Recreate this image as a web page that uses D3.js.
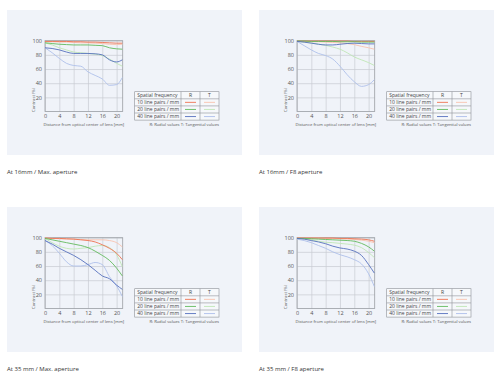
<!DOCTYPE html>
<html>
<head>
<meta charset="utf-8">
<script src="https://cdn.jsdelivr.net/npm/d3@7"></script>
<style>
  body { margin: 0; background: #fff; }
  text { font-family: "Open Sans", "Noto Sans", sans-serif; }
</style>
</head>
<body>
<div id="canvas"></div>
<script>
// distance from optical center (mm)
const xs = [0, 2, 4, 6, 8, 10, 12, 14, 16, 18, 20, 21.6];
const xTicks = [0, 4, 8, 12, 16, 20];
const yTicks = [20, 40, 60, 80, 100];

const titles = ["At 16mm / Max. aperture", "At 16mm / F8 aperture", "At 35 mm / Max. aperture", "At 35 mm / F8 aperture"];
const legendRows = ["10 line pairs / mm", "20 line pairs / mm", "40 line pairs / mm"];
const seriesKeys = ["r10", "t10", "r20", "t20", "r40", "t40"];

// 16mm max aperture
const p1r10 = [99, 99, 99, 99, 98.5, 98.5, 98, 98, 97.5, 97, 96.5, 96.5];
const p1t10 = [98.5, 98.5, 98, 98, 97.5, 97, 97, 96.5, 96, 95, 94.5, 95];
const p1r20 = [97, 96, 95, 94.5, 94, 94, 94, 93.5, 93, 90, 88.5, 88];
const p1t20 = [97, 94, 90, 87, 84, 83, 82, 81, 79, 74, 68, 64];
const p1r40 = [90, 89, 87, 84, 82, 82, 82, 81.5, 80, 73, 70, 73];
const p1t40 = [90, 83, 75, 68, 65, 64, 56, 51, 46, 37, 38, 48];

// 16mm F8 aperture
const p2r10 = [99.5, 99.5, 99.5, 99.5, 99.5, 99.5, 99.5, 99.5, 99, 99, 99, 99];
const p2t10 = [99, 99, 98.5, 98.5, 98, 97.5, 97, 96, 94.5, 92, 90, 88];
const p2r20 = [99.5, 99.5, 99, 99, 99, 99, 98.5, 98.5, 98.5, 98, 98, 98];
const p2t20 = [99, 98, 97, 95, 93.5, 91, 88, 83, 77, 73, 69, 65];
const p2r40 = [99, 98, 96.5, 95, 94, 94, 95, 96, 96.5, 96, 95.5, 95.5];
const p2t40 = [99, 93, 87, 82, 79, 74, 64, 52, 42, 35.5, 38, 45];

// 35mm max aperture
const p3r10 = [99.5, 99, 99, 98.5, 98, 97, 96, 94, 90, 85, 78, 69];
const p3t10 = [99.5, 99, 98.5, 98, 98, 97.5, 97, 97, 97, 96, 93, 87];
const p3r20 = [99, 97, 95, 93, 91, 89, 86, 81, 75, 68, 57, 46];
const p3t20 = [99, 93, 88, 85, 84, 85, 86, 88, 89, 86, 76, 59];
const p3r40 = [96, 91, 85, 80, 75, 69, 62, 54, 46, 42, 33, 27];
const p3t40 = [96, 89, 78, 66, 60, 60, 62, 65, 62, 45, 32, 17];

// 35mm F8 aperture
const p4r10 = [99.5, 99.5, 99.5, 99.5, 99.5, 99.5, 99, 99, 98.5, 98, 97, 95];
const p4t10 = [99.5, 99.5, 99.5, 99.5, 99, 99, 98.5, 98, 97.5, 96.5, 95, 93];
const p4r20 = [99, 99, 98.5, 98, 97.5, 97, 96.5, 96, 95, 92, 87, 81];
const p4t20 = [99, 98.5, 97, 95, 93.5, 93, 92, 91, 89.5, 86, 79, 72];
const p4r40 = [99, 98, 96, 94, 91.5, 88, 85.5, 84, 81, 75, 62, 50];
const p4t40 = [98, 96, 93, 89, 85, 80, 76, 73, 69, 63, 49, 31];

const colors = {
    r10: "#ee7250", t10: "#f8c2ae",
    r20: "#62ba5c", t20: "#bfe7b5",
    r40: "#5670bd", t40: "#aebfea"
};

const panels = [
    { ox: 0, oy: 0, data: { r10: p1r10, t10: p1t10, r20: p1r20, t20: p1t20, r40: p1r40, t40: p1t40 } },
    { ox: 252, oy: 0, data: { r10: p2r10, t10: p2t10, r20: p2r20, t20: p2t20, r40: p2r40, t40: p2t40 } },
    { ox: 0, oy: 197, data: { r10: p3r10, t10: p3t10, r20: p3r20, t20: p3t20, r40: p3r40, t40: p3t40 } },
    { ox: 252, oy: 197, data: { r10: p4r10, t10: p4t10, r20: p4r20, t20: p4t20, r40: p4r40, t40: p4t40 } }
];

const svg = d3.select("#canvas").append("svg")
    .attr("width", 500)
    .attr("height", 375);

const x = d3.scaleLinear().domain([0, 21.7]).range([45, 122.7]);
const y = d3.scaleLinear().domain([0, 100]).range([111.5, 40.7]);

const line = d3.line()
    .x((d, i) => x(xs[i]))
    .y(d => y(d))
    .curve(d3.curveMonotoneX);

panels.forEach((p, k) => {
    const g = svg.append("g").attr("transform", `translate(${p.ox},${p.oy})`);

    g.append("rect")
        .attr("x", 7).attr("y", 10)
        .attr("width", 235).attr("height", 145)
        .style("fill", "#f0f3f9");

    // grid
    g.append("g")
        .attr("transform", `translate(0,${y(0)})`)
        .call(d3.axisBottom(x).tickValues(xTicks).tickSize(y(0) - y(100)).tickFormat(""))
        .call(a => a.select(".domain").remove())
        .call(a => a.selectAll("line").attr("transform", `translate(0,${-(y(0) - y(100))})`).style("stroke", "#c9ccd2").style("stroke-width", 0.7));

    g.append("g")
        .attr("transform", `translate(${x(0)},0)`)
        .call(d3.axisLeft(y).tickValues(yTicks).tickSize(-(x(21.7) - x(0))).tickFormat(""))
        .call(a => a.select(".domain").remove())
        .call(a => a.selectAll("line").style("stroke", "#c9ccd2").style("stroke-width", 0.7));

    // tick labels
    g.append("g")
        .attr("transform", `translate(0,${y(0)})`)
        .call(d3.axisBottom(x).tickValues(xTicks).tickSize(0).tickPadding(3))
        .call(a => a.select(".domain").remove())
        .call(a => a.selectAll("text").style("font-size", "5.5px").style("fill", "#555").style("font-family", "Open Sans, sans-serif"));

    g.append("g")
        .attr("transform", `translate(${x(0)},0)`)
        .call(d3.axisLeft(y).tickValues(yTicks).tickSize(0).tickPadding(3))
        .call(a => a.select(".domain").remove())
        .call(a => a.selectAll("text").style("font-size", "5.5px").style("fill", "#555").style("font-family", "Open Sans, sans-serif"));

    g.append("rect")
        .attr("x", x(0)).attr("y", y(100))
        .attr("width", x(21.7) - x(0)).attr("height", y(0) - y(100))
        .style("fill", "none").style("stroke", "#9a9da3").style("stroke-width", 0.8);

    // curves, tangential first then radial
    ["t10", "t20", "t40", "r10", "r20", "r40"].forEach(key => {
        g.append("path")
            .datum(p.data[key])
            .attr("d", line)
            .style("fill", "none")
            .style("stroke", colors[key])
            .style("stroke-width", 0.9);
    });

    g.append("text")
        .attr("x", (x(0) + x(21.7)) / 2).attr("y", 125.5)
        .attr("text-anchor", "middle")
        .style("font-size", "4.2px").style("fill", "#555")
        .text("Distance from optical center of lens [mm]");

    g.append("text")
        .attr("transform", "translate(34.5,100) rotate(-90)")
        .attr("text-anchor", "middle")
        .style("font-size", "4.2px").style("fill", "#555")
        .text("Contrast (%)");

    // legend table
    const lx = 134.7, ly = 91.7, rh = 7.1;
    const cols = [lx, 181, 200, 219];
    const lg = g.append("g");
    lg.append("rect")
        .attr("x", lx).attr("y", ly)
        .attr("width", cols[3] - lx).attr("height", rh * 4)
        .style("fill", "#f6f8fb").style("stroke", "#8e9197").style("stroke-width", 0.6);
    [1, 2, 3].forEach(r => lg.append("line")
        .attr("x1", lx).attr("x2", cols[3])
        .attr("y1", ly + r * rh).attr("y2", ly + r * rh)
        .style("stroke", "#8e9197").style("stroke-width", 0.6));
    [1, 2].forEach(c => lg.append("line")
        .attr("x1", cols[c]).attr("x2", cols[c])
        .attr("y1", ly).attr("y2", ly + 4 * rh)
        .style("stroke", "#8e9197").style("stroke-width", 0.6));

    lg.append("text")
        .attr("x", lx + 2.5).attr("y", ly + rh / 2 + 1.8)
        .style("font-size", "5px").style("fill", "#444")
        .text("Spatial frequency");
    lg.append("text")
        .attr("x", (cols[1] + cols[2]) / 2).attr("y", ly + rh / 2 + 1.8)
        .attr("text-anchor", "middle")
        .style("font-size", "5px").style("fill", "#444")
        .text("R");
    lg.append("text")
        .attr("x", (cols[2] + cols[3]) / 2).attr("y", ly + rh / 2 + 1.8)
        .attr("text-anchor", "middle")
        .style("font-size", "5px").style("fill", "#444")
        .text("T");

    legendRows.forEach((label, r) => {
        const cy = ly + (r + 1) * rh + rh / 2;
        lg.append("text")
            .attr("x", lx + 2.5).attr("y", cy + 1.8)
            .style("font-size", "5px").style("fill", "#444")
            .text(label);
        lg.append("line")
            .attr("x1", cols[1] + 4).attr("x2", cols[2] - 4)
            .attr("y1", cy).attr("y2", cy)
            .style("stroke", colors[seriesKeys[r * 2]]).style("stroke-width", 0.9);
        lg.append("line")
            .attr("x1", cols[2] + 4).attr("x2", cols[3] - 4)
            .attr("y1", cy).attr("y2", cy)
            .style("stroke", colors[seriesKeys[r * 2 + 1]]).style("stroke-width", 0.9);
    });

    g.append("text")
        .attr("x", 219).attr("y", 125.5)
        .attr("text-anchor", "end")
        .style("font-size", "4.2px").style("fill", "#555")
        .text("R: Radial values  T: Tangential values");

    g.append("text")
        .attr("x", 7).attr("y", 174)
        .style("font-size", "6px").style("fill", "#333")
        .text(titles[k]);
});
</script>
</body>
</html>
